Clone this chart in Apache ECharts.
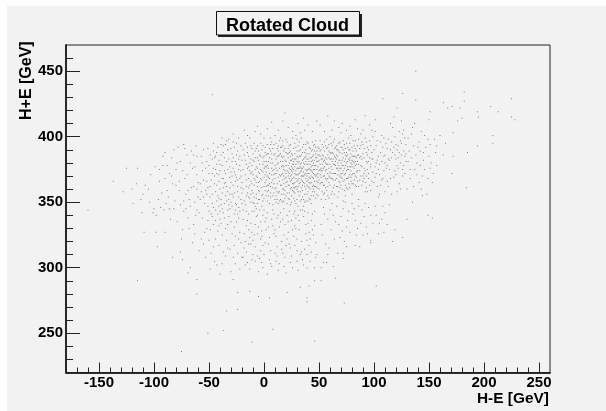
<!DOCTYPE html>
<html><head><meta charset="utf-8">
<script src="https://cdn.jsdelivr.net/npm/echarts@6/dist/echarts.min.js"></script>
<style>html,body{margin:0;padding:0;background:#fff}#c{width:606px;height:411px}</style>
</head><body><div id="c"></div>
<script>
const titleText = "Rotated Cloud";
const xTitle = "H-E [GeV]";
const yTitle = "H+E [GeV]";
const xMajor = [-150,-100,-50,0,50,100,150,200,250];
const yMajor = [250,300,350,400,450];
const xMinor = [-170,-160,-140,-130,-120,-110,-90,-80,-70,-60,-40,-30,-20,-10,10,20,30,40,60,70,80,90,110,120,130,140,160,170,180,190,210,220,230,240];
const yMinor = [230,240,260,270,280,290,310,320,330,340,360,370,380,390,410,420,430,440,460];
const outliers = [[-47,432],[19,418],[-125,376],[-115,376],[-137,366],[-73,394],[-6,408],[-15,401],[138,450],[126,433],[108,429],[138,428],[121,422],[182,434],[182,427],[225,429],[206,423],[213,419],[225,415],[228,413],[194,419],[195,415],[163,426],[167,422],[171,423],[178,422],[180,414],[176,412],[151,419],[150,413],[160,401],[172,403],[208,401],[208,395],[194,393],[185,388],[157,393],[165,395],[172,385],[163,386],[156,388],[171,372],[184,361],[151,376],[144,355],[149,340],[153,338],[130,337],[126,323],[117,320],[119,329],[109,327],[105,334],[97,321],[97,319],[90,325],[87,316],[83,317],[75,316],[72,311],[72,307],[63,301],[65,292],[102,286],[73,273],[46,244],[52,290],[46,290],[41,286],[39,277],[39,274],[33,285],[58,310],[57,304],[54,304],[52,300],[46,300],[39,300],[48,310],[-160,344],[-111,342],[-101,342],[-109,327],[-98,327],[-90,327],[-97,316],[-83,308],[-76,312],[-74,306],[-115,290],[-67,300],[-69,296],[-61,291],[-61,280],[-49,299],[-40,295],[-28,291],[-24,281],[-13,282],[-5,278],[5,277],[21,281],[-34,267],[-24,268],[-51,250],[-37,252],[-11,243],[8,253],[-75,236]];
const west = [[-128,358],[-119,349],[-103,371],[-96,352],[-108,363],[-84,384],[-91,344],[-77,366],[-88,359],[-72,391],[-69,338],[-99,377],[-81,351],[-64,362],[-74,329],[-86,372],[-61,385],[-67,347],[-79,335],[-93,357],[-70,371],[-63,326],[-83,364],[-76,381],[-60,354],[-71,356],[-65,376],[-89,349],[-62,340],[-78,392],[-104,350],[-95,366],[-73,343],[-66,361],[-85,337],[-80,375],[-68,352],[-61,371],[-75,322],[-92,378],[-64,333],[-70,386],[-87,354],[-63,350],[-77,359],[-82,345],[-60,365],[-67,380],[-72,368],[-110,356],[-98,340],[-65,319],[-80,363],[-62,393],[-69,359],[-74,374],[-61,344],[-66,389],[-73,351],[-84,370],[-94,346],[-79,380],[-116,364],[-63,377],[-68,330],[-71,345],[-61,360],[-90,388],[-76,348],[-64,386]];
const southWest = [[-57,322],[-44,336],[-35,309],[-52,330],[-29,326],[-41,317],[-23,338],[-48,311],[-33,333],[-56,338],[-26,303],[-38,325],[-45,305],[-21,319],[-31,314],[-50,321],[-36,338],[-27,331],[-59,313],[-42,328],[-24,311],[-47,339],[-30,297],[-39,334],[-54,327],[-22,327],[-34,321],[-46,316],[-28,308],[-37,312],[-43,302],[-25,335],[-51,336],[-32,339],[-55,318],[-20,308],[-40,337],[-27,317],[-49,329],[-35,330],[-23,322],[-44,322],[-30,335],[-38,303],[-53,308],[-22,299],[-41,332],[-26,324],[-33,315],[-46,333]];
const northWest = [[-58,352],[-41,371],[-33,344],[-52,381],[-24,362],[-47,349],[-37,388],[-29,356],[-55,367],[-21,393],[-44,358],[-31,377],[-50,343],[-26,371],[-39,352],[-57,385],[-23,346],[-46,376],[-35,365],[-28,384],[-53,359],[-42,392],[-20,357],[-38,345],[-48,367],[-32,398],[-25,379],[-59,342],[-43,363],[-36,374],[-22,368],[-51,391],[-30,350],[-45,384],[-27,341],[-40,360],[-34,381],[-56,374],[-21,352],[-49,354],[-29,370],[-41,347],[-24,389],[-54,349],[-37,368],[-31,361],[-46,395],[-26,349],[-43,379],[-58,364],[-35,355],[-23,375],[-50,372],[-39,386],[-28,363],[-44,344],[-20,382],[-33,390],[-52,356],[-36,349],[-25,395],[-47,383],[-41,366],[-30,373],[-55,390],[-27,357],[-42,355],[-22,343],[-38,378],[-49,362],[-32,352],[-24,367],[-45,370],[-34,397],[-57,358],[-21,374],[-40,343],[-29,387],[-53,376],[-37,361],[-26,381],[-47,356],[-31,345],[-43,388],[-23,354],[-36,384],[-51,347],[-28,376],[-39,394],[-20,365],[-44,375],[-33,358],[-56,380],[-25,348],[-41,382],[-30,365],[-48,341],[-22,385],[-35,372],[-46,389],[-27,392],[-52,366],[-38,357],[-24,341],[-43,351],[-32,383],[-21,361],[-50,378],[-37,393],[-29,347],[-45,364],[-26,366],[-40,374],[-34,351],[-23,399],[-55,354],[-31,369],[-42,341],[-20,349],[-47,372],[-28,354],[-36,364],[-25,386],[-44,385],[-33,375],[-39,348],[-22,378],[-30,391],[-51,361],[-27,373],[-41,353],[-35,394],[-24,358],[-49,386],[-31,356],[-38,368],[-21,370],[-46,346],[-26,344],[-43,372],[-29,381],[-34,362],[-23,383],[-37,342],[-28,396],[-40,379],[-32,348],[-25,369]];
const south = [[-17,302],[12,338],[-8,316],[27,324],[3,295],[38,333],[-14,329],[19,308],[44,341],[-3,322],[31,298],[8,344],[-19,337],[24,315],[-6,309],[41,327],[14,331],[-11,343],[35,306],[1,335],[47,319],[-16,312],[21,340],[6,303],[29,330],[-9,325],[43,312],[16,320],[-1,340],[33,344],[-13,299],[10,311],[25,336],[-5,331],[39,321],[18,345],[4,318],[-18,326],[30,313],[13,298],[-7,339],[46,332],[22,327],[-2,304],[36,339],[9,326],[-12,318],[28,343],[17,311],[-4,344],[42,305],[2,329],[-15,336],[34,320],[11,305],[-10,310],[26,300],[-19,344],[40,342],[7,337],[23,318],[-3,313],[45,325],[15,342],[-8,333],[32,329],[0,310],[-14,341],[20,296],[37,314],[5,323],[-17,320],[29,338],[-1,300],[12,316],[43,336],[-6,326],[25,309],[8,332],[-11,306],[35,344],[18,325],[-16,332],[3,342],[47,308],[30,322],[-9,343],[14,303],[-2,328],[22,335],[41,317],[6,313],[-13,323],[27,341],[10,329],[-5,297],[33,310],[19,333],[-18,315],[38,326],[1,319],[-7,345],[24,304],[13,340],[44,329],[-12,334],[16,314],[28,317],[-4,307],[9,341],[36,302],[-15,304],[21,322],[2,338],[40,334],[-10,321],[31,340],[5,306],[17,337],[-19,308],[26,329],[-1,317],[46,343],[11,324],[-6,340],[34,312],[23,343],[7,301],[-14,318],[42,322],[15,335],[-3,335],[30,305],[-8,305],[20,317],[4,331],[37,343],[-16,343],[12,309],[28,332],[-11,327],[39,310],[0,344],[18,301],[-2,324],[32,336]];
const coreA = [[-12,372],[4,359],[-7,391],[11,383],[-18,351],[2,367],[14,397],[-4,379],[8,348],[-15,388],[-1,356],[12,374],[-9,363],[6,394],[-19,375],[0,385],[15,352],[-6,369],[9,371],[-13,399],[3,378],[-2,347],[13,389],[-10,357],[5,364],[-17,382],[10,401],[-5,352],[1,392],[14,366],[-8,384],[7,376],[-14,361],[-3,395],[11,355],[-11,378],[4,387],[-16,367],[8,361],[-1,373],[13,349],[-7,356],[2,381],[15,381],[-12,393],[6,354],[-4,366],[10,368],[-19,360],[0,399],[12,391],[-9,349],[5,372],[-15,376],[3,351],[-6,384],[14,376],[-2,361],[9,386],[-13,353],[7,396],[1,365],[-10,371],[11,361],[-17,395],[4,376],[-5,389],[13,369],[-8,347],[2,355],[-12,383],[15,392],[-3,375],[6,380],[-14,368],[10,352],[0,369],[-7,377],[8,391],[-18,386],[12,358],[-1,384],[5,349],[-11,364],[3,394],[-4,358],[14,386],[-9,381],[7,365],[-16,355],[1,377],[11,395],[-6,362],[9,357],[-13,374],[-2,390],[13,380],[4,369],[-10,350],[2,386],[-15,392],[6,362],[-5,373],[15,363],[-8,367],[0,353],[10,378],[-12,356],[3,363],[-3,402],[8,374],[-17,371],[12,352],[-1,379],[5,384],[-7,353],[14,358],[-14,385],[1,359],[-9,395],[7,387],[-4,372],[11,372],[-11,359],[2,373],[-19,390],[9,364],[-6,349],[13,393],[-2,367],[4,355],[-13,380],[6,399],[-8,375],[15,370],[0,376],[-16,362],[10,387],[-5,382],[3,370],[-10,387],[12,364],[-1,351],[8,380],[-12,366],[5,391],[-3,385],[14,351],[-7,370],[2,362],[-15,357],[11,376],[-9,354],[7,371],[1,388],[-4,352],[9,394],[-14,377],[13,385],[-2,374],[4,381],[-6,393],[6,357],[-11,373],[15,387],[0,362],[-17,348],[10,360],[-8,389],[3,387],[-3,368],[12,379],[-13,363],[5,368],[-5,359],[8,355],[-1,393],[14,371],[-10,382],[2,377],[-7,365],[11,350],[-16,379],[7,383],[0,381],[-4,386],[9,375],[-12,350],[4,363],[13,357],[-2,355],[6,389],[-9,368],[15,399],[1,371],[-14,354],[10,372],[-6,376],[3,358],[-11,391],[12,385],[-5,365],[8,367]];
const coreB = [[28,372],[19,359],[41,387],[33,351],[24,394],[46,366],[17,378],[37,362],[29,401],[49,377],[21,349],[35,382],[43,355],[26,368],[18,389],[39,374],[31,393],[47,384],[23,363],[36,347],[44,396],[16,371],[27,381],[40,358],[32,376],[20,398],[48,361],[25,355],[38,390],[45,372],[22,384],[34,367],[42,379],[30,352],[17,393],[46,389],[28,361],[37,405],[19,374],[41,369],[33,385],[24,348],[49,392],[26,379],[35,359],[43,374],[18,364],[39,396],[31,371],[47,353],[21,387],[36,377],[44,362],[27,391],[16,356],[40,383],[32,364],[23,376],[48,371],[29,349],[38,368],[20,381],[45,386],[25,367],[34,399],[42,352],[30,385],[17,360],[46,375],[28,395],[37,356],[19,368],[41,392],[33,373],[24,382],[49,365],[26,359],[35,388],[43,381],[18,377],[39,363],[31,347],[47,397],[22,370],[36,394],[44,369],[27,353],[16,385],[40,375],[32,389],[23,357],[48,381],[29,379],[38,351],[20,365],[45,360],[25,387],[34,374],[42,391],[30,366],[17,350],[46,382],[28,383],[37,371],[21,396],[41,361],[33,403],[24,370],[49,386],[26,373],[35,354],[43,389],[18,385],[39,379],[31,358],[47,370],[22,353],[36,383],[44,378],[27,364],[16,377],[40,395],[32,372],[23,388],[48,356],[29,368],[38,385],[20,355],[45,393],[25,377],[34,361],[42,368],[30,398],[17,372],[46,358],[28,351],[37,379],[19,391],[41,376],[33,365],[24,360],[49,372],[26,399],[35,376],[43,349],[18,356],[39,370],[31,384],[47,378],[22,378],[36,365],[44,385],[27,375],[16,363],[40,351],[32,381],[23,368],[48,389],[29,392],[38,375],[20,372],[45,355],[25,350],[34,386],[42,384],[30,376],[17,384],[46,371],[28,365],[37,388],[21,357],[41,353],[33,379],[24,375],[49,355],[26,386],[35,370],[43,365],[18,370],[39,383],[31,362],[47,387],[22,391],[36,352],[44,373],[27,369],[16,351],[40,367],[32,396],[23,380],[48,366],[29,374],[38,360],[20,388],[45,380],[25,361],[34,352],[42,375],[30,381],[17,367],[46,394],[28,387],[37,364],[19,382],[41,381],[33,358],[24,389],[49,381],[26,364],[35,392],[43,370],[18,360],[39,387],[31,376],[47,362],[22,363],[36,373],[44,390],[27,358],[16,392],[40,372],[32,355],[23,372],[48,375],[29,383],[38,394],[20,378],[45,368],[25,371],[34,380],[42,360],[30,371],[17,397],[46,378],[28,377],[37,350],[21,374],[41,372],[33,390],[24,366],[49,369],[26,383],[35,363],[43,384],[18,375],[39,356],[31,367],[47,392],[22,387],[36,380],[44,358],[27,379],[19,353],[40,379],[32,368],[23,393],[48,384],[29,362],[38,372],[20,369],[45,375],[25,382],[34,370],[42,364],[30,389],[17,381],[46,362],[28,357],[37,384],[21,366],[41,365],[33,377],[24,385],[31,380],[26,376],[35,366],[43,377],[18,351],[39,366],[22,373],[36,370],[44,382],[27,361],[40,362],[32,385],[23,352],[29,371],[38,381],[20,362],[45,363],[25,374],[34,376],[30,360]];
const coreC = [[62,381],[75,368],[53,394],[81,389],[58,362],[70,403],[84,373],[55,377],[67,354],[78,384],[52,369],[64,391],[73,359],[83,397],[60,373],[72,378],[56,352],[79,366],[66,386],[51,385],[85,381],[69,365],[57,398],[76,392],[63,367],[80,356],[54,381],[71,387],[61,356],[82,376],[68,395],[59,384],[74,372],[50,360],[77,399],[65,378],[83,363],[55,389],[72,351],[62,405],[79,380],[53,374],[70,369],[58,392],[84,389],[66,362],[75,385],[60,379],[81,372],[52,352],[68,382],[56,368],[73,394],[64,372],[78,361],[51,397],[69,376],[85,366],[61,387],[76,377],[57,359],[82,393],[67,371],[54,385],[74,355],[63,396],[80,385],[59,370],[71,392],[55,363],[83,378],[65,384],[77,369],[50,382],[72,366],[62,375],[79,401],[53,365],[70,380],[58,355],[84,362],[66,393],[75,374],[60,400],[81,381],[52,376],[68,358],[56,384],[73,381],[64,363],[78,390],[51,371],[69,388],[85,393],[61,368],[76,360],[57,375],[82,367],[67,390],[54,356],[74,386],[63,379],[80,371],[59,394],[71,372],[55,382],[83,385],[65,367],[77,383],[50,391],[72,397],[62,358],[79,374],[53,386],[70,363],[58,379],[84,379],[66,376],[75,395],[60,363],[81,364],[52,383],[68,374],[56,393],[73,367],[64,385],[78,377],[51,364],[69,382],[85,374],[61,395],[76,368],[57,383],[82,385],[67,362],[54,370],[74,391],[63,387],[80,379],[59,376],[71,360],[55,370],[83,391],[65,392],[77,375],[50,374],[72,384],[62,368],[79,387],[53,358],[70,376],[58,386],[84,369],[66,383],[75,380],[60,388],[81,397],[52,390],[68,366],[56,374],[73,388],[64,356],[78,371],[51,379],[69,396],[85,386],[61,377],[76,386],[57,367],[82,380],[67,380],[54,392],[74,363],[63,372],[80,392],[59,353],[71,382],[55,396],[83,370],[65,372],[77,390],[50,367],[72,374],[62,388],[79,369],[53,379],[70,392],[58,372],[84,384],[66,368],[75,361],[60,383],[81,377],[52,365],[68,389],[56,361],[73,376],[64,398],[78,395],[51,389],[69,370],[61,383],[76,381],[57,391],[82,372],[67,385],[54,376],[74,378],[63,361],[80,364],[59,389],[71,368],[55,357],[83,381],[65,381],[77,364],[50,386],[72,390],[62,393],[79,377],[53,383],[70,372],[58,368],[66,390],[75,388],[60,369],[81,385],[52,374],[68,378],[56,380],[73,371],[64,379],[78,382],[51,375],[69,361],[61,372],[76,375],[57,379],[67,376],[54,363],[74,383],[63,383],[80,382],[59,365],[71,378]];
const southEast = [[58,337],[72,345],[93,331],[64,322],[81,341],[101,347],[54,346],[88,334],[67,311],[76,336],[110,342],[61,329],[95,346],[84,325],[70,339],[52,333],[104,326],[78,327],[91,339],[60,344],[73,320],[99,334],[86,347],[56,318],[68,333],[114,348],[80,349],[63,340],[107,337],[75,331],[89,344],[53,325],[97,340],[66,347],[83,336],[59,315],[71,328],[112,333],[92,349],[77,343],[55,341],[65,335],[102,340],[85,330],[62,349],[94,326],[74,350],[69,323],[108,347],[82,345]];
const east = [[95,372],[112,391],[88,385],[121,378],[103,362],[92,399],[117,407],[99,383],[127,389],[108,368],[86,362],[114,375],[97,393],[124,397],[105,379],[90,370],[119,386],[101,404],[128,372],[110,358],[93,381],[116,396],[87,391],[123,364],[106,388],[98,366],[125,412],[113,383],[91,376],[120,394],[102,372],[129,381],[109,399],[94,358],[118,369],[100,390],[126,402],[111,376],[89,396],[122,384],[104,354],[96,384],[115,410],[107,381],[129,394],[92,365],[119,374],[103,397],[124,360],[86,379],[112,366],[98,405],[121,390],[105,371],[90,387],[127,378],[110,386],[94,392],[116,356],[101,377],[123,404],[88,370],[113,398],[97,359],[125,386],[106,363],[91,384],[118,415],[102,393],[128,399],[109,374],[95,381],[120,371],[86,398],[114,382],[99,373],[122,393],[107,401],[93,361],[117,388],[104,385],[126,370],[111,395],[89,377],[124,380],[100,365],[115,368],[96,397],[129,387],[108,392],[92,374],[121,358],[103,382],[119,400],[87,384],[112,378],[98,388],[125,395],[105,356],[90,405],[116,384],[101,369],[127,405],[110,380],[94,375],[122,376],[106,396],[88,393],[118,392],[97,379],[113,362],[123,388],[104,375],[91,368],[120,383],[99,400],[126,375],[107,367],[93,388],[115,390],[102,380],[128,385],[109,385]];
const farEast = [[134,384],[147,392],[139,371],[131,399],[152,380],[143,404],[136,362],[149,368],[133,375],[145,388],[141,396],[155,398],[137,410],[132,389],[150,385],[142,378],[135,350],[146,375],[138,386],[153,365],[130,360],[144,370],[140,392],[148,356],[134,402],[157,378],[136,393],[143,360],[131,381],[151,394],[139,380],[146,401],[133,368],[142,389],[135,407],[154,372],[137,375],[149,398],[141,365],[145,382]];
const fringe = [[-8,404],[7,411],[22,407],[36,414],[51,409],[64,412],[78,408],[92,416],[-18,405],[13,405],[31,410],[44,404],[58,416],[71,410],[85,406],[101,413],[-28,402],[3,406],[26,404],[40,409],[55,404],[68,407],[83,413],[96,409],[-38,399],[17,412],[48,412],[75,405],[88,402],[86,352],[91,391],[94,386],[87,374],[90,366],[97,377],[89,383],[93,370],[95,390],[88,378],[92,358],[86,386],[96,363],[90,394],[94,380],[87,367],[98,383],[91,372],[93,396],[89,363],[95,368],[-90,368],[-95,375],[-105,360],[-100,345],[-112,352],[-120,360],[-86,345],[-82,390],[-88,378],[-92,385]];
const allPoints = [...outliers,...west,...southWest,...northWest,...south,...coreA,...coreB,...coreC,...southEast,...east,...farEast,...fringe];

const font = "'Liberation Sans', Arial, sans-serif";
const mkX = (vals,len,labels) => ({type:'value',min:-180,max:260,position:'bottom',splitLine:{show:false},
  axisLine:{show:true,onZero:false,lineStyle:{color:'#222',width:1.5}},
  axisTick:{show:true,inside:true,length:len,customValues:vals,lineStyle:{color:'#222',width:1}},
  axisLabel:labels?{show:true,customValues:vals,color:'#000',fontFamily:font,fontWeight:'bold',fontSize:15,margin:3,formatter:v=>String(v)}:{show:false}});
const mkY = (vals,len,labels) => ({type:'value',min:220,max:470,position:'left',splitLine:{show:false},
  axisLine:{show:true,onZero:false,lineStyle:{color:'#222',width:1.5}},
  axisTick:{show:true,inside:true,length:len,customValues:vals,lineStyle:{color:'#222',width:1}},
  axisLabel:labels?{show:true,customValues:vals,color:'#000',fontFamily:font,fontWeight:'bold',fontSize:15,margin:3,formatter:v=>String(v)}:{show:false}});
const chart = echarts.init(document.getElementById('c'),null,{renderer:'canvas'});
chart.setOption({
  animation:false,
  graphic:[
    {type:'rect',z:-10,silent:true,shape:{x:7,y:6,width:599,height:405},style:{fill:'#f2f2f2'}},
    {type:'rect',z:1,silent:true,shape:{x:218,y:14,width:144,height:23},style:{fill:'#222'}},
    {type:'rect',z:2,silent:true,shape:{x:216.5,y:11.5,width:143,height:23.5},style:{fill:'#f2f2f2',stroke:'#111',lineWidth:1}},
    {type:'text',z:3,x:477,y:391,style:{text:xTitle,fill:'#000',font:"bold 15.4px "+font}},
    {type:'text',z:3,x:19,y:120,rotation:Math.PI/2,style:{text:yTitle,fill:'#000',font:"bold 16px "+font}}
  ],
  title:{text:titleText,left:216,top:11,padding:[6,10,0,10],z:10,
    textStyle:{fontFamily:font,fontWeight:'bold',fontSize:18,color:'#000',lineHeight:18}},
  grid:{left:66,top:45,width:484,height:327.5,show:true,borderColor:'#222',borderWidth:1,backgroundColor:'transparent',containLabel:false},
  xAxis:[mkX(xMajor,10,true),mkX(xMinor,5,false)],
  yAxis:[mkY(yMajor,14,true),mkY(yMinor,7,false)],
  series:[{type:'scatter',data:allPoints,symbol:'rect',symbolSize:1,large:false,itemStyle:{color:'#666',opacity:0.85}}]
});
</script></body></html>
